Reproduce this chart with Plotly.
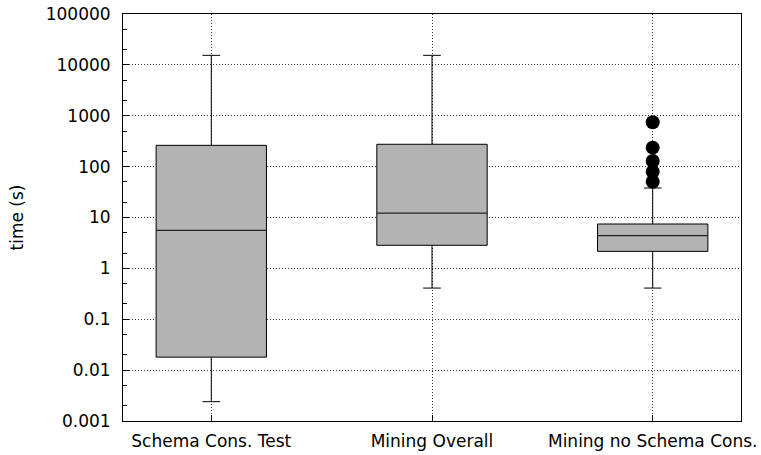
import plotly.graph_objects as go

# Run-time summary statistics (seconds) for each configuration
categories = ["Schema Cons. Test", "Mining Overall", "Mining no Schema Cons."]
positions = [1, 2, 3]
lower_whisker = [0.0024, 0.41, 0.41]
q1 = [0.018, 2.84, 2.16]
median = [5.6, 12.2, 4.39]
q3 = [262, 275, 7.45]
upper_whisker = [15400, 15400, 38]

# Outliers above the upper whisker of the third configuration
outlier_pos = [3, 3, 3, 3, 3]
outlier_vals = [743, 236, 129, 79.5, 50.5]

y_tickvals = [0.001, 0.01, 0.1, 1, 10, 100, 1000, 10000, 100000]
y_ticktext = ["0.001", "0.01", "0.1", "1", "10", "100", "1000", "10000", "100000"]
y_minor_vals = [m * 10 ** e for e in range(-3, 5) for m in (2, 5)]

font_family = "DejaVu Sans, Verdana, sans-serif"
font_size = 17
grid_dash = "1px,2px"

fig = go.Figure()

fig.add_trace(go.Box(
    x=positions,
    q1=q1,
    median=median,
    q3=q3,
    lowerfence=lower_whisker,
    upperfence=upper_whisker,
    width=0.5,
    whiskerwidth=0.16,
    fillcolor="#b3b3b3",
    line=dict(color="black", width=1),
    boxpoints=False,
    showlegend=False,
    hoverinfo="skip",
))

fig.add_trace(go.Scatter(
    x=outlier_pos,
    y=outlier_vals,
    mode="markers",
    marker=dict(color="black", size=14, symbol="circle"),
    showlegend=False,
    hoverinfo="skip",
))

fig.update_layout(
    width=761,
    height=455,
    margin=dict(l=123, r=20, t=14, b=34),
    plot_bgcolor="white",
    paper_bgcolor="white",
    font=dict(family=font_family, size=font_size, color="black"),
)

fig.update_xaxes(
    range=[0.6, 3.4],
    automargin=False,
    tickmode="array",
    tickvals=positions,
    ticktext=categories,
    ticks="inside",
    ticklen=6,
    tickcolor="black",
    ticklabelstandoff=5,
    showgrid=True,
    gridcolor="#333333",
    griddash=grid_dash,
    gridwidth=1,
    showline=True,
    linecolor="black",
    linewidth=1,
    mirror=True,
    zeroline=False,
    tickfont=dict(family=font_family, size=font_size),
)

fig.update_yaxes(
    type="log",
    range=[-3, 5],
    automargin=False,
    tickmode="array",
    tickvals=y_tickvals,
    ticktext=y_ticktext,
    ticks="inside",
    ticklen=6,
    tickcolor="black",
    ticklabelstandoff=8,
    minor=dict(
        tickmode="array",
        tickvals=y_minor_vals,
        ticks="inside",
        ticklen=4,
        tickcolor="black",
        showgrid=False,
    ),
    showgrid=True,
    gridcolor="#333333",
    griddash=grid_dash,
    gridwidth=1,
    showline=True,
    linecolor="black",
    linewidth=1,
    mirror=True,
    zeroline=False,
    title=dict(text="time (s)", font=dict(family=font_family, size=font_size), standoff=17),
    tickfont=dict(family=font_family, size=font_size),
)

fig.write_html("out.html")
